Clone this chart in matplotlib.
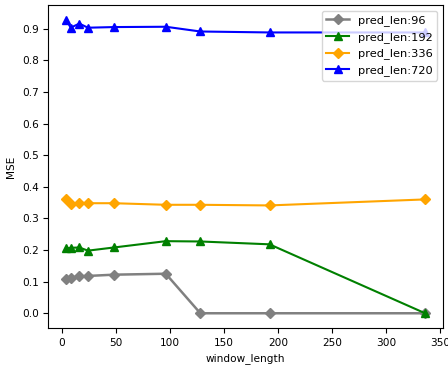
import matplotlib
matplotlib.use("Agg")
import matplotlib.pyplot as plt
import numpy as np

plt.rcParams['font.size'] = 7.6

window_length = [4, 8, 16, 24, 48, 96, 128, 192, 336]
mse_96 = [0.108, 0.112, 0.117, 0.118, 0.122, 0.125, 0.0, 0.0, 0.0]
mse_192 = [0.205, 0.207, 0.208, 0.198, 0.208, 0.228, 0.227, 0.218, 0.0]
mse_336 = [0.360, 0.345, 0.350, 0.348, 0.348, 0.343, 0.343, 0.341, 0.360]
mse_720 = [0.928, 0.903, 0.916, 0.903, 0.905, 0.906, 0.891, 0.888, 0.888]

fig, ax = plt.subplots(figsize=(4.48, 3.66), dpi=100)
fig.subplots_adjust(left=0.108, right=0.989, top=0.986, bottom=0.104)

ax.plot(window_length, mse_96, marker='D', color='grey', linewidth=1.8, markersize=5, label='pred_len:96')
ax.plot(window_length, mse_192, marker='^', color='green', linewidth=1.5, markersize=6, label='pred_len:192')
ax.plot(window_length, mse_336, marker='D', color='orange', linewidth=1.5, markersize=5, label='pred_len:336')
ax.plot(window_length, mse_720, marker='^', color='blue', linewidth=1.5, markersize=6, label='pred_len:720')

ax.set_yticks(np.arange(0, 0.91, 0.1))
ax.set_xlabel('window_length')
ax.set_ylabel('MSE')
ax.legend(loc='upper right', fontsize=8.2)

plt.savefig('out.png', dpi=100)
